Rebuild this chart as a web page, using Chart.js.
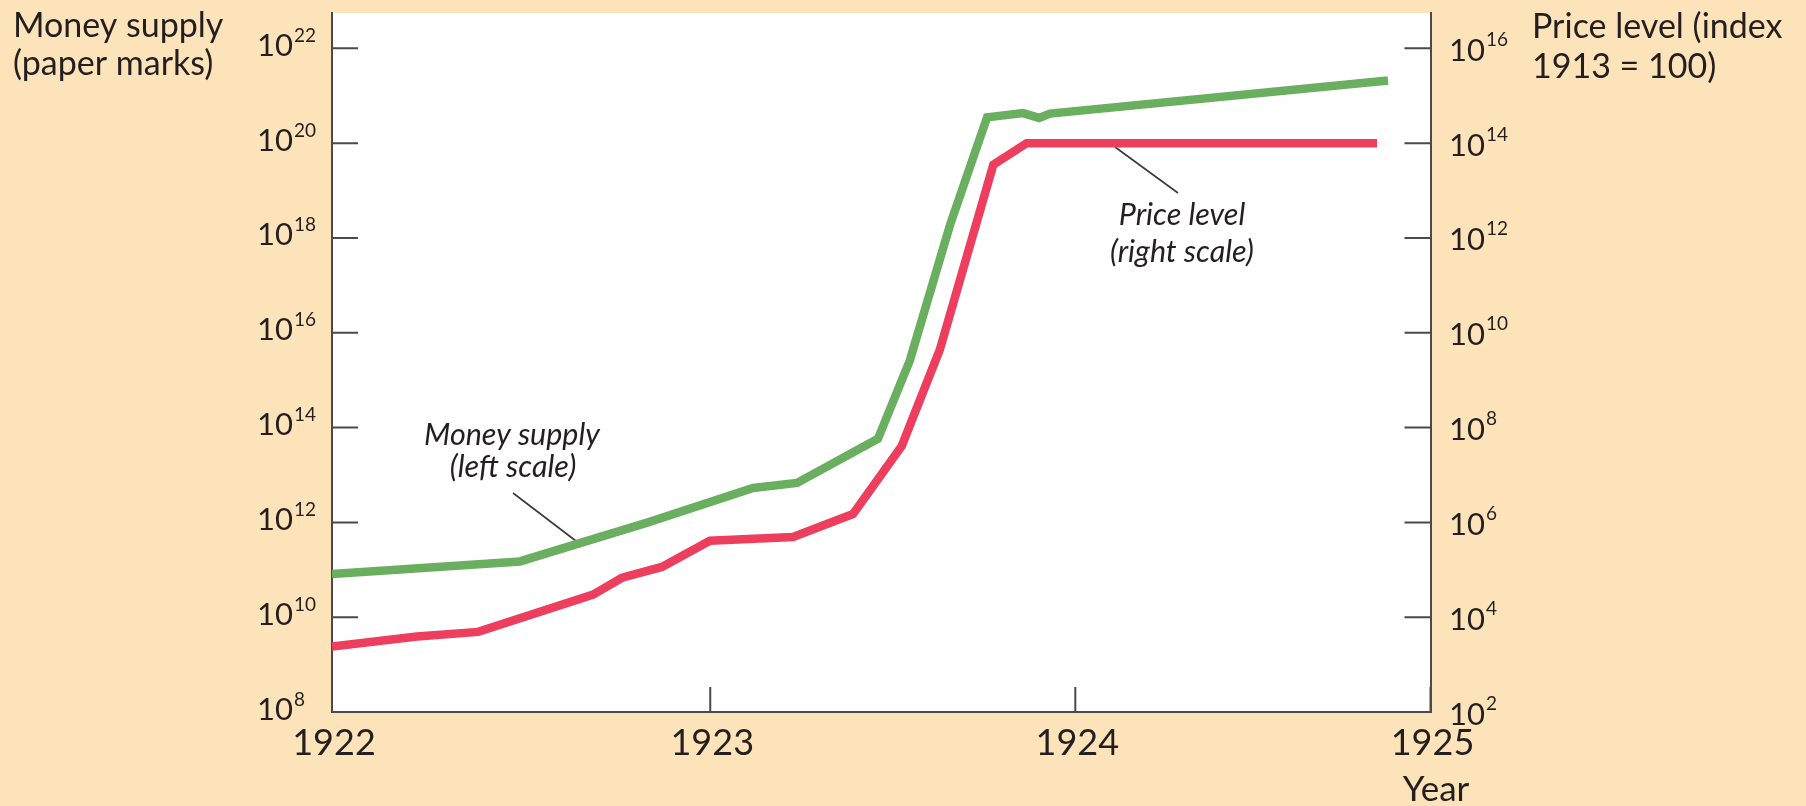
<!DOCTYPE html>
<html><head><meta charset="utf-8">
<script src="https://cdn.jsdelivr.net/npm/chart.js@4"></script>
<style>html,body{margin:0;padding:0;background:#FDE3B9;overflow:hidden}canvas{display:block}</style>
</head><body>
<canvas id="c" width="1806" height="806"></canvas>
<script>
// ---- data ----
const moneyDates  = [1922.000, 1922.513, 1922.863, 1923.150, 1923.270, 1923.491, 1923.578, 1923.688, 1923.789, 1923.887, 1923.931, 1923.961, 1924.884];
const moneySupply = [8.1e10, 1.5e11, 1.0e12, 5.3e12, 6.8e12, 5.8e13, 2.6e15, 1.9e18, 3.5e20, 4.3e20, 3.4e20, 4.2e20, 2.1e21];
const priceDates  = [1922.000, 1922.232, 1922.399, 1922.713, 1922.792, 1922.901, 1923.032, 1923.259, 1923.423, 1923.556, 1923.660, 1923.806, 1923.897, 1924.854];
const priceLevel  = [2.4e3, 3.9e3, 4.9e3, 3.0e4, 6.8e4, 1.15e5, 4.1e5, 4.9e5, 1.5e6, 4.1e7, 4.4e9, 3.5e13, 1.0e14, 1.0e14];
const yearLabels  = ['1922', '1923', '1924', '1925'];
const yearTickPos = [1922, 1923.033, 1924.030, 1925];
const leftExps    = [8, 10, 12, 14, 16, 18, 20, 22];
const rightExps   = [2, 4, 6, 8, 10, 12, 14, 16];

const FONT = 'Lato, "Open Sans", sans-serif';
const INK = '#231f20';
const AXIS = '#4a4a4a';
const GREEN = '#6AAF5F';
const RED = '#EE3E5E';
const PEACH = '#FDE3B9';

function pow10(ctx, x, y, exp, big, small, expDy) {
  ctx.font = big + 'px ' + FONT;
  ctx.fillText('10', x, y);
  const w = ctx.measureText('10').width;
  ctx.font = small + 'px ' + FONT;
  ctx.fillText(String(exp), x + w + 1, y + expDy);
}

const decor = {
  id: 'decor',
  beforeDraw(chart) {
    const {ctx, chartArea: a} = chart;
    ctx.save();
    ctx.fillStyle = PEACH;
    ctx.fillRect(0, 0, chart.width, chart.height);
    ctx.fillStyle = '#ffffff';
    ctx.fillRect(a.left, a.top, a.right - a.left, a.bottom - a.top);
    ctx.restore();
  },
  beforeDatasetsDraw(chart) {
    const {ctx} = chart;
    ctx.save();
    ctx.strokeStyle = '#3a3a3a';
    ctx.lineWidth = 1.6;
    ctx.beginPath();
    ctx.moveTo(513, 493); ctx.lineTo(576, 541);
    ctx.moveTo(1115, 147); ctx.lineTo(1178, 193);
    ctx.stroke();
    ctx.restore();
  },
  afterDraw(chart) {
    const {ctx, chartArea: a, scales} = chart;
    ctx.save();
    // inward tick marks
    ctx.strokeStyle = AXIS;
    ctx.lineWidth = 2;
    ctx.beginPath();
    scales.yL.ticks.forEach(t => { const y = scales.yL.getPixelForValue(t.value); ctx.moveTo(a.left, y); ctx.lineTo(a.left + 26, y); });
    scales.yR.ticks.forEach(t => { const y = scales.yR.getPixelForValue(t.value); ctx.moveTo(a.right - 26, y); ctx.lineTo(a.right, y); });
    scales.x.ticks.forEach(t => { const x = scales.x.getPixelForValue(t.value); ctx.moveTo(x, a.bottom - 25); ctx.lineTo(x, a.bottom); });
    ctx.stroke();

    ctx.fillStyle = INK;
    ctx.textBaseline = 'alphabetic';
    ctx.textAlign = 'left';
    // left tick labels
    scales.yL.ticks.forEach(t => {
      const y = scales.yL.getPixelForValue(t.value);
      pow10(ctx, 257, y + 7.5, Math.round(Math.log10(t.value)), 31, 19, -14);
    });
    // right tick labels
    scales.yR.ticks.forEach(t => {
      const y = scales.yR.getPixelForValue(t.value);
      pow10(ctx, 1449, y + 12.5, Math.round(Math.log10(t.value)), 31, 19, -15);
    });
    // x tick labels
    ctx.textAlign = 'center';
    ctx.font = '36px ' + FONT;
    scales.x.ticks.forEach((t, i) => {
      const x = scales.x.getPixelForValue(t.value);
      ctx.fillText(yearLabels[i], x + 2, 755);
    });
    ctx.font = '35px ' + FONT;
    ctx.fillText('Year', 1436, 801);

    // axis titles
    ctx.textAlign = 'left';
    ctx.font = '34px ' + FONT;
    ctx.fillText('Money supply', 13, 37);
    ctx.fillText('(paper marks)', 13, 75);
    ctx.fillText('Price level (index', 1532, 38);
    ctx.fillText('1913 = 100)', 1532, 78);

    // series annotations
    ctx.textAlign = 'center';
    ctx.font = 'italic 30.5px ' + FONT;
    ctx.fillText('Money supply', 512, 445);
    ctx.fillText('(left scale)', 513, 477);
    ctx.fillText('Price level', 1182, 225);
    ctx.fillText('(right scale)', 1182, 262);
    ctx.restore();
  }
};

const lineStyle = { borderWidth: 8.5, pointRadius: 0, tension: 0, borderJoinStyle: 'miter', borderCapStyle: 'butt', fill: false };

new Chart(document.getElementById('c'), {
  type: 'line',
  data: {
    datasets: [
      Object.assign({ label: 'Money supply (left scale)', data: moneyDates.map((x, i) => ({x, y: moneySupply[i]})), yAxisID: 'yL', borderColor: GREEN }, lineStyle),
      Object.assign({ label: 'Price level (right scale)', data: priceDates.map((x, i) => ({x, y: priceLevel[i]})), yAxisID: 'yR', borderColor: RED }, lineStyle)
    ]
  },
  options: {
    responsive: false,
    animation: false,
    devicePixelRatio: 1,
    layout: { padding: { top: 13, left: 0, right: 0, bottom: 0 } },
    plugins: { legend: { display: false }, tooltip: { enabled: false } },
    scales: {
      x: {
        type: 'linear', position: 'bottom', min: 1922, max: 1925,
        grid: { display: false }, ticks: { display: false },
        border: { display: true, color: AXIS, width: 2 },
        afterBuildTicks: s => { s.ticks = yearTickPos.map(v => ({ value: v })); },
        afterFit: s => { s.height = 94; }
      },
      yL: {
        type: 'logarithmic', position: 'left', min: 1e8, max: Math.pow(10, 22.745),
        grid: { display: false }, ticks: { display: false },
        border: { display: true, color: AXIS, width: 2 },
        afterBuildTicks: s => { s.ticks = leftExps.map(e => ({ value: Math.pow(10, e) })); },
        afterFit: s => { s.width = 332; }
      },
      yR: {
        type: 'logarithmic', position: 'right', min: 1e2, max: Math.pow(10, 16.745),
        grid: { display: false }, ticks: { display: false },
        border: { display: true, color: AXIS, width: 2 },
        afterBuildTicks: s => { s.ticks = rightExps.map(e => ({ value: Math.pow(10, e) })); },
        afterFit: s => { s.width = 375.5; }
      }
    }
  },
  plugins: [decor]
});
</script>
</body></html>
